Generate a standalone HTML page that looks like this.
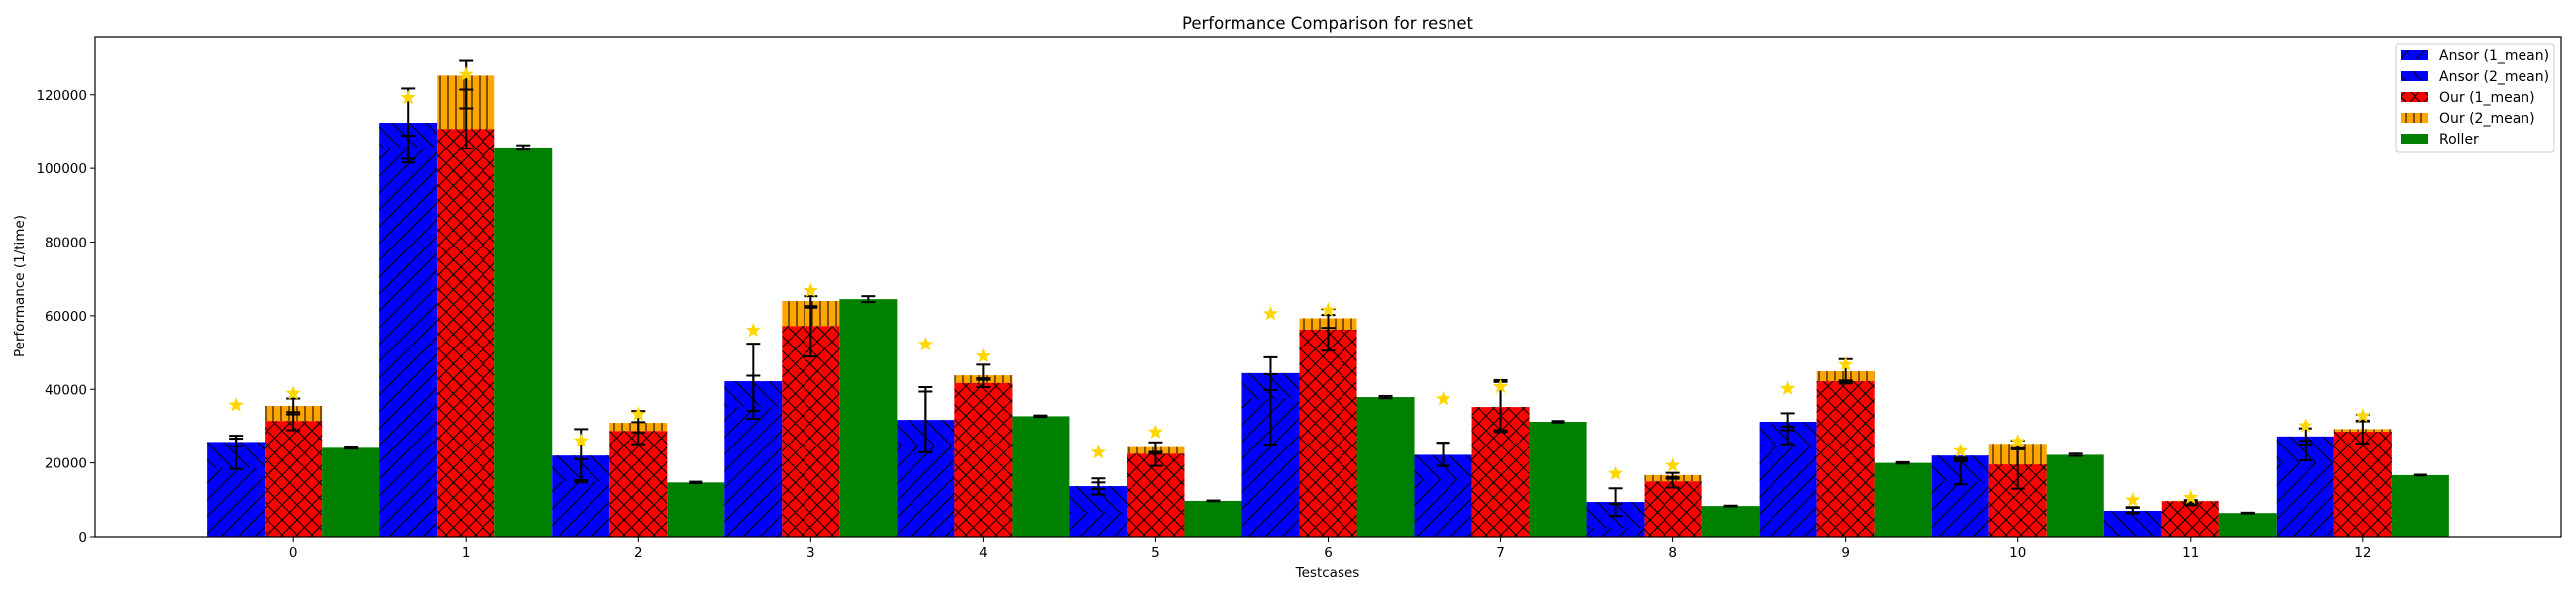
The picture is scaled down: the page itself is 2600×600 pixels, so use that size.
<!DOCTYPE html>
<html><head><meta charset="utf-8"><style>
html,body{margin:0;padding:0;background:#fff}
svg{display:block;font-family:"DejaVu Sans","Liberation Sans",sans-serif}
</style></head><body>
<svg id="chart" width="2600" height="600" viewBox="0 0 2600 600" xmlns="http://www.w3.org/2000/svg">
<defs>
<pattern id="hFwd" patternUnits="userSpaceOnUse" width="17" height="17"><path d="M-1,18 L18,-1 M-3,3 L3,-3 M14,20 L20,14" stroke="#000" stroke-width="1.1"/></pattern>
<pattern id="hBack" patternUnits="userSpaceOnUse" width="17" height="17"><path d="M-1,-1 L18,18 M-3,14 L3,20 M14,-3 L20,3" stroke="#000" stroke-width="1.1"/></pattern>
<pattern id="hX" patternUnits="userSpaceOnUse" width="15" height="15"><path d="M0,15 L15,0 M0,0 L15,15" stroke="#000" stroke-width="1"/></pattern>
<pattern id="hV" patternUnits="userSpaceOnUse" width="8" height="12"><path d="M4,0 L4,12" stroke="#000" stroke-width="1"/></pattern>
</defs>
<text x="1340" y="29" text-anchor="middle" font-size="16.5">Performance Comparison for resnet</text>
<g id="plot"></g>
<text x="1340" y="583" text-anchor="middle" font-size="13.5">Testcases</text>
<text transform="translate(24,289) rotate(-90)" text-anchor="middle" font-size="13.5">Performance (1/time)</text>
<g>
<rect x="2418" y="44" width="160" height="110" rx="3" fill="#fff" fill-opacity="0.8" stroke="#ccc"/>
<g><rect x="2423" y="51" width="28" height="10" fill="#0000ff"/><rect x="2423" y="51" width="28" height="10" fill="url(#hFwd)"/><text x="2462" y="61" font-size="14">Ansor (1_mean)</text></g>
<g><rect x="2423" y="72" width="28" height="10" fill="#0000ff"/><rect x="2423" y="72" width="28" height="10" fill="url(#hBack)"/><text x="2462" y="82" font-size="14">Ansor (2_mean)</text></g>
<g><rect x="2423" y="93" width="28" height="10" fill="#ff0000"/><rect x="2423" y="93" width="28" height="10" fill="url(#hX)"/><text x="2462" y="103" font-size="14">Our (1_mean)</text></g>
<g><rect x="2423" y="114" width="28" height="10" fill="#ffa500"/><rect x="2423" y="114" width="28" height="10" fill="url(#hV)"/><text x="2462" y="124" font-size="14">Our (2_mean)</text></g>
<g><rect x="2423" y="135" width="28" height="10" fill="#008000"/><text x="2462" y="145" font-size="14">Roller</text></g>
</g>
</svg>
<script>
const categories = ["0","1","2","3","4","5","6","7","8","9","10","11","12"];
const ansor1 = [25.7,112.4,22.0,42.2,31.7,13.7,44.4,22.2,9.4,31.2,22.0,7.0,27.2];
const ansor2 = [25.7,112.4,22.0,42.2,31.7,13.7,44.4,22.2,9.4,31.2,22.0,7.0,27.2];
const our1 = [31.4,110.7,28.7,57.2,41.7,22.5,56.2,35.2,15.0,42.2,19.6,9.6,28.5];
const our2 = [35.5,125.2,30.9,64.0,43.8,24.3,59.3,35.2,16.7,44.9,25.2,9.7,29.2];
const roller = [24.1,105.7,14.7,64.5,32.7,9.7,37.9,31.2,8.3,20.0,22.2,6.4,16.7];
const ansorErrLo = [18.4,102.6,14.7,32.0,22.9,11.4,25.0,19.2,5.6,25.1,14.2,6.3,20.7];
const ansorErrHi = [27.4,121.7,29.2,52.4,40.6,15.8,48.7,25.5,13.1,33.5,21.4,8.0,29.4];
const ansor2ErrLo = [24.5,101.6,15.3,34.2,22.9,12.9,39.8,19.2,8.9,28.9,20.4,6.5,25.0];
const ansor2ErrHi = [26.6,108.9,21.0,43.7,39.4,14.7,44.1,25.5,8.9,29.9,20.9,7.8,26.0];
const ourErrLo = [28.9,105.4,25.1,48.9,40.6,19.2,50.5,28.4,13.3,41.6,13.0,8.5,25.3];
const ourErrHi = [37.5,129.2,34.1,65.3,46.7,25.6,61.8,42.5,17.3,48.2,26.1,9.9,33.2];
const our2ErrLo = [33.2,116.3,28.3,62.2,42.6,22.5,56.7,28.9,15.7,42.0,23.7,9.0,31.3];
const our2ErrHi = [33.8,121.4,31.1,62.6,43.0,23.0,60.2,42.0,16.1,42.4,24.0,9.6,31.5];
const rollerErr = [0.2,0.6,0.2,0.8,0.2,0.1,0.3,0.2,0.1,0.2,0.3,0.1,0.1];
const ansorStar = [35.7,119.2,26.0,56.0,52.2,22.9,60.5,37.4,17.1,40.2,23.3,9.9,30.1];
const ourStar = [38.9,125.5,33.2,66.8,49.0,28.4,61.5,40.7,19.3,46.7,25.8,10.6,32.8];
const yTicks = [0,20000,40000,60000,80000,100000,120000];

const NS="http://www.w3.org/2000/svg";
const plot=document.getElementById('plot');
const L=96,R=2585,T=37,B=542;
const xMin=-1.15,xMax=13.15,yMax=135.8;
function X(i){return L+(i-xMin)/(xMax-xMin)*(R-L);}
function Y(v){return B-v/yMax*(B-T);}
const bw=(X(1)-X(0))/3;
function mk(tag,attrs,parent){const e=document.createElementNS(NS,tag);for(const k in attrs)e.setAttribute(k,attrs[k]);(parent||plot).appendChild(e);return e;}
function rect(x,y0,y1,fill,name){const r=mk('rect',{x:x,y:Y(y1),width:bw,height:Math.max(0,Y(y0)-Y(y1)),fill:fill});return r;}
function err(cx,lo,hi,name){const g=mk('g',{stroke:'#000','stroke-width':2});
 mk('line',{x1:cx,x2:cx,y1:Y(lo),y2:Y(hi)},g);mk('line',{x1:cx-7,x2:cx+7,y1:Y(lo),y2:Y(lo)},g);mk('line',{x1:cx-7,x2:cx+7,y1:Y(hi),y2:Y(hi)},g);}
function star(cx,v,name){const cy=Y(v),ro=8,ri=3.4;let p=[];for(let k=0;k<10;k++){const r=k%2?ri:ro,a=-Math.PI/2+k*Math.PI/5;p.push((cx+r*Math.cos(a)).toFixed(1)+','+(cy+r*Math.sin(a)).toFixed(1));}
 const s=mk('polygon',{points:p.join(' '),fill:'#ffd700'});}

const frame=mk('rect',{x:L,y:T,width:R-L,height:B-T,fill:'none',stroke:'#000','stroke-width':1.2});



categories.forEach((c,i)=>{
 const xa=X(i)-1.5*bw,xo=X(i)-0.5*bw,xr=X(i)+0.5*bw;
 const top=Math.max(ansor1[i],ansor2[i]);
 const band=Math.min(26,Y(0)-Y(ansor2[i]));
 const b=mk('rect',{x:xa,y:Y(top),width:bw,height:Y(0)-Y(top),fill:'#0000ff'});
 
 
 mk('rect',{x:xa,y:Y(top)+band,width:bw,height:Math.max(0,Y(0)-Y(top)-band),fill:'url(#hFwd)'});
 mk('rect',{x:xa,y:Y(ansor2[i]),width:bw,height:band,fill:'url(#hBack)'});
 if(our2[i]>our1[i]){rect(xo,our1[i],our2[i],'#ffa500','bar-our2-'+c);mk('rect',{x:xo,y:Y(our2[i]),width:bw,height:Y(our1[i])-Y(our2[i]),fill:'url(#hV)'});}
 rect(xo,0,our1[i],'#ff0000','bar-our1-'+c);
 mk('rect',{x:xo,y:Y(our1[i]),width:bw,height:Y(0)-Y(our1[i]),fill:'url(#hX)'});
 rect(xr,0,roller[i],'#008000','bar-roller-'+c);
 err(X(i)-bw,ansorErrLo[i],ansorErrHi[i],'errorbar-ansor-'+c);
 err(X(i)-bw,ansor2ErrLo[i],ansor2ErrHi[i],'errorbar-ansor2-'+c);
 err(X(i),ourErrLo[i],ourErrHi[i],'errorbar-our-'+c);
 err(X(i),our2ErrLo[i],our2ErrHi[i],'errorbar-our2-'+c);
 err(X(i)+bw,roller[i]-rollerErr[i],roller[i]+rollerErr[i],'errorbar-roller-'+c);
 star(X(i)-bw,ansorStar[i],'star-ansor-'+c);
 star(X(i),ourStar[i],'star-our-'+c);
 mk('line',{x1:X(i),x2:X(i),y1:B,y2:B+5,stroke:'#000'});
 const t=mk('text',{x:X(i),y:B+21,'text-anchor':'middle','font-size':13.5});t.textContent=c;
 
 
});
yTicks.forEach(v=>{
 const y=Y(v/1000);
 mk('line',{x1:L-5,x2:L,y1:y,y2:y,stroke:'#000'});
 const t=mk('text',{x:L-8,y:y+5,'text-anchor':'end','font-size':13.5});t.textContent=String(v);
 
 
});
plot.appendChild(frame);
</script>
</body></html>
